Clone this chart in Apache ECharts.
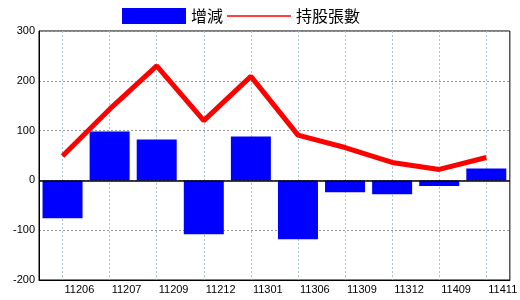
<!DOCTYPE html>
<html><head><meta charset="utf-8">
<script src="https://cdn.jsdelivr.net/npm/echarts@6/dist/echarts.min.js"></script>
<style>html,body{margin:0;padding:0;background:#fff}#c{width:520px;height:300px}</style>
</head><body><div id="c"></div>
<script>
const categories = ['11206','11207','11209','11212','11301','11306','11309','11312','11409','11411'];
const changeValues = [-76, 98, 82, -108, 88, -118, -24, -28, -11, 24];
const holdingValues = [49, 143, 230, 120, 209, 91, 66, 36, 22, 46];
const yTicks = [-200, -100, 0, 100, 200, 300];

const chart = echarts.init(document.getElementById('c'), null, {renderer:'canvas'});
const labelFont = {fontFamily:'Liberation Sans', fontSize:11, color:'#000'};
const thinLineIcon = 'path://M0,0L0.01,0L0.01,0.01Z M0,7.2H64V8.8H0Z M0,16L0.01,16L0.01,15.99Z';
chart.setOption({
  animation:false,
  backgroundColor:'#fff',
  grid:{left:39, right:5, top:31, bottom:20, show:true, borderColor:'#000', borderWidth:1, backgroundColor:'transparent'},
  legend:{
    left:122, top:8, padding:0, itemWidth:64, itemHeight:16, itemGap:4,
    textStyle:{fontFamily:'Noto Sans CJK TC', fontSize:16, color:'#000'},
    data:[{name:'增減', icon:'rect'}, {name:'持股張數', icon:thinLineIcon, itemStyle:{color:'#ff0000'}}]
  },
  xAxis:{
    type:'category', data:categories, boundaryGap:true,
    axisLine:{onZero:false, lineStyle:{color:'#000'}},
    axisTick:{show:false, alignWithLabel:true},
    axisLabel:Object.assign({align:'left', margin:4, padding:[0,0,0,2]}, labelFont),
    splitLine:{show:true, alignWithLabel:true, lineStyle:{color:'#a8c0cc', type:[2,2], width:1}}
  },
  yAxis:{
    type:'value', min:yTicks[0], max:yTicks[yTicks.length-1], interval:100,
    axisLine:{show:true, lineStyle:{color:'#000'}},
    axisTick:{show:false},
    axisLabel:Object.assign({margin:4}, labelFont),
    splitLine:{show:true, lineStyle:{color:'#999', type:[2,2], width:1}}
  },
  series:[
    {name:'增減', type:'bar', data:changeValues, barWidth:40, itemStyle:{color:'#0000ff'},
     markLine:{silent:true, symbol:'none', label:{show:false}, lineStyle:{color:'#000', type:'solid', width:1.5}, data:[{yAxis:0}]}},
    {name:'持股張數', type:'line', data:holdingValues, symbol:'none', z:5,
     itemStyle:{color:'#ff0000'}, lineStyle:{color:'#ff0000', width:5}}
  ]
});
</script></body></html>
